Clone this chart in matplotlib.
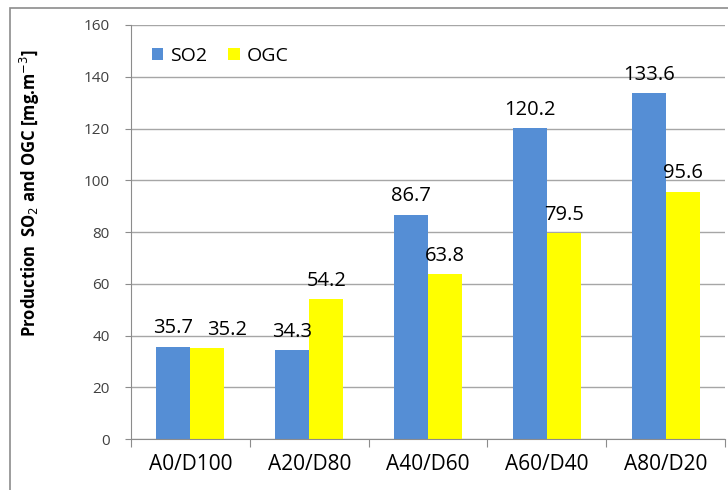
import numpy as np
import matplotlib.pyplot as plt
from matplotlib.patches import Rectangle

# mixture ratios and measured production
mixtures = ["A0/D100", "A20/D80", "A40/D60", "A60/D40", "A80/D20"]
so2 = [35.7, 34.3, 86.7, 120.2, 133.6]
ogc = [35.2, 54.2, 63.8, 79.5, 95.6]

plt.rcParams['font.family'] = ['Open Sans', 'DejaVu Sans']

fig = plt.figure(figsize=(7.28, 4.9), dpi=100)
ax = fig.add_axes([0.180, 0.104, 0.816, 0.845])

# thin frame around the chart area
fig.patches.append(Rectangle((10 / 728, -0.1), 1.2, 1.1 - 8 / 490,
                             transform=fig.transFigure, fill=False,
                             edgecolor="#8c8c8c", linewidth=1.2))

x = np.arange(len(mixtures))
w = 0.286
b1 = ax.bar(x - w / 2, so2, w, color="#558ED5", label="SO2", zorder=2)
b2 = ax.bar(x + w / 2, ogc, w, color="#FFFF00", label="OGC", zorder=2)

# value labels; the first OGC label is nudged right so it clears its neighbour
for series, (bars, vals) in enumerate(((b1, so2), (b2, ogc))):
    for i, (rect, v) in enumerate(zip(bars, vals)):
        dx = 14 if (series == 1 and i == 0) else 0
        ax.annotate(f"{v:.1f}", (rect.get_x() + rect.get_width() / 2, v),
                    xytext=(dx, 9.5), textcoords="offset points",
                    ha="center", va="baseline", fontsize=14.5, color="black")

ax.set_xlim(-0.5, len(mixtures) - 0.5)
ax.set_ylim(0, 160)
ax.set_yticks(np.arange(0, 161, 20))
ax.set_xticks(np.arange(-0.5, len(mixtures), 1.0), minor=False)
ax.set_xticklabels([])
ax.set_xticks(x, minor=True)
ax.set_xticklabels(mixtures, minor=True, fontsize=15)
ax.tick_params(axis="x", which="minor", length=0, pad=11)
ax.tick_params(axis="x", which="major", length=6, color="#8c8c8c")
ax.tick_params(axis="y", length=4.5, color="#8c8c8c", pad=11,
               labelsize=11, labelcolor="#404040")

ax.grid(axis="y", color="#a6a6a6", linewidth=1, zorder=0)
for side in ("top", "right"):
    ax.spines[side].set_visible(False)
ax.spines["left"].set_color("#8c8c8c")
ax.spines["bottom"].set_color("#8c8c8c")

ax.set_ylabel("Production  SO$_2$ and OGC [mg.m$^{-3}$]",
              fontsize=12, fontweight="bold")
ax.yaxis.set_label_coords(-0.150, 0.594)

ax.legend(loc="upper left", bbox_to_anchor=(0.005, 0.99), ncol=2,
          frameon=False, fontsize=14, handlelength=0.6, handleheight=0.6,
          handletextpad=0.35, columnspacing=1.1)

fig.savefig("out.png", dpi=100)
